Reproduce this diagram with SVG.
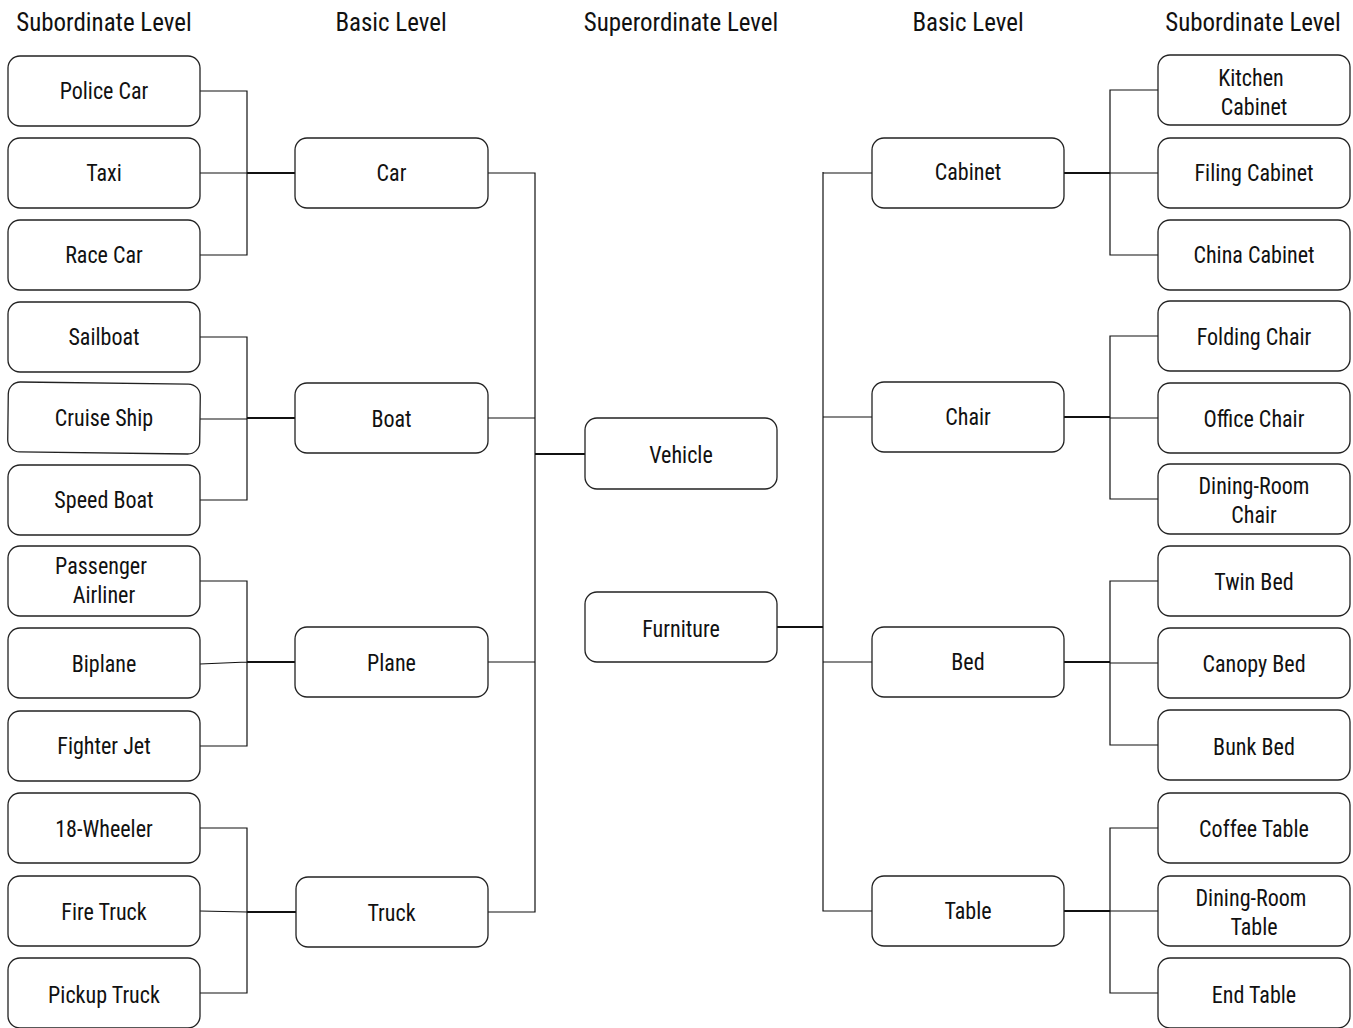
<svg xmlns="http://www.w3.org/2000/svg" width="1353" height="1028" viewBox="0 0 1353 1028">
<style>
text{font-family:"Liberation Sans Narrow","Arial Narrow","Roboto Condensed","Liberation Sans",sans-serif;font-stretch:condensed;fill:#111;text-anchor:middle;transform-box:fill-box;transform-origin:center}
.t{font-size:26px;transform:scaleX(0.96)}
.l{font-size:24px;transform:scaleX(0.92)}
.n rect{fill:#fff;stroke:#222;stroke-width:1.3}
.c path{fill:none;stroke:#111;stroke-width:1.2}
.c path.m{stroke-width:2}
</style>
<rect width="1353" height="1028" fill="#fff"/>
<g id="titles">
<text class="t" x="104" y="31">Subordinate Level</text>
<text class="t" x="391" y="31">Basic Level</text>
<text class="t" x="681" y="31">Superordinate Level</text>
<text class="t" x="968" y="31">Basic Level</text>
<text class="t" x="1253" y="31">Subordinate Level</text>
</g>
<g id="connectors" class="c">
<path d="M200 91H247V255H200M200 173H247"/><path class="m" d="M247 173H295"/>
<path d="M200 337H247V500H200M200 419H247"/><path class="m" d="M247 418H295"/>
<path d="M200 581H247V746H200M200 664L247 662"/><path class="m" d="M247 662H295"/>
<path d="M200 828H247V993H200M200 911L247 912"/><path class="m" d="M247 912H296"/>
<path d="M488 173H535V912H488M488 418H535M488 662H535"/><path class="m" d="M535 454H585"/>
<path class="m" d="M777 627H823"/><path d="M823 172V911H872M823 173H872M823 417H872M823 662H872"/>
<path class="m" d="M1064 173H1110"/><path d="M1158 90H1110V255H1158M1110 173H1158"/>
<path class="m" d="M1064 417H1110"/><path d="M1158 336H1110V499H1158M1110 418H1158"/>
<path class="m" d="M1064 662H1110"/><path d="M1158 581H1110V745H1158M1110 663H1158"/>
<path class="m" d="M1064 911H1110"/><path d="M1158 828H1110V993H1158M1110 911H1158"/>
</g>
<g id="police-car" class="n"><rect x="8" y="56" width="192" height="70" rx="12"/><text class="l" x="104" y="99">Police Car</text></g>
<g id="taxi" class="n"><rect x="8" y="138" width="192" height="70" rx="12"/><text class="l" x="104" y="181">Taxi</text></g>
<g id="race-car" class="n"><rect x="8" y="220" width="192" height="70" rx="12"/><text class="l" x="104" y="263">Race Car</text></g>
<g id="sailboat" class="n"><rect x="8" y="302" width="192" height="70" rx="12"/><text class="l" x="104" y="345">Sailboat</text></g>
<g id="cruise-ship" class="n"><rect x="8" y="383" width="192" height="70" rx="12" transform="rotate(0.7 104 418)"/><text class="l" x="104" y="426">Cruise Ship</text></g>
<g id="speed-boat" class="n"><rect x="8" y="465" width="192" height="70" rx="12"/><text class="l" x="104" y="508">Speed Boat</text></g>
<g id="passenger-airliner" class="n"><rect x="8" y="546" width="192" height="70" rx="12"/><text class="l" x="101" y="574">Passenger</text><text class="l" x="104" y="603">Airliner</text></g>
<g id="biplane" class="n"><rect x="8" y="628" width="192" height="70" rx="12"/><text class="l" x="104" y="672">Biplane</text></g>
<g id="fighter-jet" class="n"><rect x="8" y="711" width="192" height="70" rx="12"/><text class="l" x="104" y="754">Fighter Jet</text></g>
<g id="18-wheeler" class="n"><rect x="8" y="793" width="192" height="70" rx="12"/><text class="l" x="104" y="837">18-Wheeler</text></g>
<g id="fire-truck" class="n"><rect x="8" y="876" width="192" height="70" rx="12"/><text class="l" x="104" y="920">Fire Truck</text></g>
<g id="pickup-truck" class="n"><rect x="8" y="958" width="192" height="70" rx="12"/><text class="l" x="104" y="1003">Pickup Truck</text></g>
<g id="car" class="n"><rect x="295" y="138" width="193" height="70" rx="12"/><text class="l" x="391.5" y="181">Car</text></g>
<g id="boat" class="n"><rect x="295" y="383" width="193" height="70" rx="12"/><text class="l" x="391.5" y="427">Boat</text></g>
<g id="plane" class="n"><rect x="295" y="627" width="193" height="70" rx="12"/><text class="l" x="391.5" y="671">Plane</text></g>
<g id="truck" class="n"><rect x="296" y="877" width="192" height="70" rx="12"/><text class="l" x="391.5" y="921">Truck</text></g>
<g id="vehicle" class="n"><rect x="585" y="418" width="192" height="71" rx="12"/><text class="l" x="681" y="463">Vehicle</text></g>
<g id="furniture" class="n"><rect x="585" y="592" width="192" height="70" rx="12"/><text class="l" x="681" y="637">Furniture</text></g>
<g id="cabinet" class="n"><rect x="872" y="138" width="192" height="70" rx="12"/><text class="l" x="968" y="180">Cabinet</text></g>
<g id="chair" class="n"><rect x="872" y="382" width="192" height="70" rx="12"/><text class="l" x="968" y="425">Chair</text></g>
<g id="bed" class="n"><rect x="872" y="627" width="192" height="70" rx="12"/><text class="l" x="968" y="670">Bed</text></g>
<g id="table" class="n"><rect x="872" y="876" width="192" height="70" rx="12"/><text class="l" x="968" y="919">Table</text></g>
<g id="kitchen-cabinet" class="n"><rect x="1158" y="55" width="192" height="70" rx="12"/><text class="l" x="1251" y="86">Kitchen</text><text class="l" x="1254" y="115">Cabinet</text></g>
<g id="filing-cabinet" class="n"><rect x="1158" y="138" width="192" height="70" rx="12"/><text class="l" x="1254" y="181">Filing Cabinet</text></g>
<g id="china-cabinet" class="n"><rect x="1158" y="220" width="192" height="70" rx="12"/><text class="l" x="1254" y="263">China Cabinet</text></g>
<g id="folding-chair" class="n"><rect x="1158" y="301" width="192" height="70" rx="12"/><text class="l" x="1254" y="345">Folding Chair</text></g>
<g id="office-chair" class="n"><rect x="1158" y="383" width="192" height="70" rx="12"/><text class="l" x="1254" y="427">Office Chair</text></g>
<g id="dining-room-chair" class="n"><rect x="1158" y="464" width="192" height="70" rx="12"/><text class="l" x="1254" y="494">Dining-Room</text><text class="l" x="1254" y="523">Chair</text></g>
<g id="twin-bed" class="n"><rect x="1158" y="546" width="192" height="70" rx="12"/><text class="l" x="1254" y="590">Twin Bed</text></g>
<g id="canopy-bed" class="n"><rect x="1158" y="628" width="192" height="70" rx="12"/><text class="l" x="1254" y="672">Canopy Bed</text></g>
<g id="bunk-bed" class="n"><rect x="1158" y="710" width="192" height="70" rx="12"/><text class="l" x="1254" y="755">Bunk Bed</text></g>
<g id="coffee-table" class="n"><rect x="1158" y="793" width="192" height="70" rx="12"/><text class="l" x="1254" y="837">Coffee Table</text></g>
<g id="dining-room-table" class="n"><rect x="1158" y="876" width="192" height="70" rx="12"/><text class="l" x="1251" y="906">Dining-Room</text><text class="l" x="1254" y="935">Table</text></g>
<g id="end-table" class="n"><rect x="1158" y="958" width="192" height="70" rx="12"/><text class="l" x="1254" y="1003">End Table</text></g>
</svg>
